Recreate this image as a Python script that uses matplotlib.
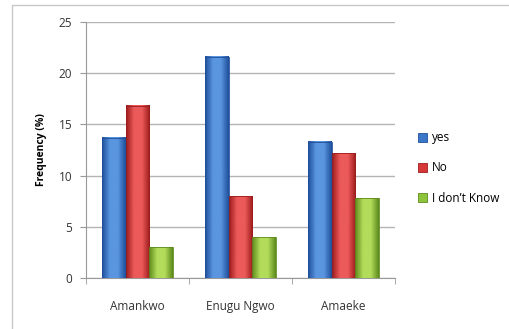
import numpy as np
import matplotlib
matplotlib.use("Agg")
import matplotlib.pyplot as plt
from matplotlib.colors import LinearSegmentedColormap
from matplotlib.patches import Rectangle

# Dados: frequência (%) por comunidade
comunidades = ["Amankwo", "Enugu Ngwo", "Amaeke"]
series = ["yes", "No", "I don\u2019t Know"]
sim = [13.7, 21.6, 13.3]
nao = [16.8, 8.0, 12.2]
nao_sei = [3.0, 4.0, 7.8]
valores = [sim, nao, nao_sei]

# cores base e tons para o efeito de relevo
cores = [("#1f4f9a", "#5a95e0"), ("#9c1c1c", "#ec5a5a"), ("#5d8a1c", "#b2dc5a")]
cor_solida = ["#3b77c9", "#d63838", "#8dc43c"]

plt.rcParams["font.family"] = ["Open Sans", "DejaVu Sans"]

fig = plt.figure(figsize=(5.10, 3.29), dpi=100)
fig.patches.append(Rectangle((12 / 510, -0.01), 1.0, 1 - 5 / 329 + 0.01,
                             transform=fig.transFigure, fill=False,
                             edgecolor="#c8c8c8", linewidth=1.0))
ax = fig.add_axes([86 / 510, 1 - 278 / 329, (395 - 86) / 510, (278 - 22) / 329])

x = np.arange(len(comunidades))
largura = 0.228

for i, (vals, (escuro, claro)) in enumerate(zip(valores, cores)):
    cmap = LinearSegmentedColormap.from_list("g", [escuro, claro, claro, escuro])
    grad = np.linspace(0, 1, 64).reshape(1, -1)
    for j, v in enumerate(vals):
        x0 = x[j] + (i - 1) * largura - largura / 2
        ax.imshow(grad, cmap=cmap, aspect="auto", extent=(x0, x0 + largura, 0, v),
                  zorder=3, interpolation="bilinear")
        ax.add_patch(Rectangle((x0, 0), largura, v, fill=False,
                               edgecolor=escuro, linewidth=0.6, zorder=4))
    # barras vazias só para a legenda
    ax.bar([0], [0], color=cor_solida[i], edgecolor=escuro, linewidth=0.6,
           label=series[i])

ax.set_xlim(-0.5, 2.5)
ax.set_ylim(0, 25)
ax.set_yticks(range(0, 26, 5))
ax.yaxis.grid(True, color="#b4b4b4", linewidth=1.0)
ax.set_axisbelow(True)

ax.set_xticks(x)
ax.set_xticklabels(comunidades)
ax.set_xticks([-0.5, 0.5, 1.5, 2.5], minor=True)
ax.tick_params(axis="x", which="major", length=0, pad=16, labelsize=8.5, colors="#333333")
ax.tick_params(axis="x", which="minor", length=4, color="#999999")
ax.tick_params(axis="y", length=4, color="#999999", labelsize=8.5, colors="#333333", pad=6)

for lado in ["top", "right"]:
    ax.spines[lado].set_visible(False)
for lado in ["left", "bottom"]:
    ax.spines[lado].set_color("#999999")

ax.set_ylabel("Frequency (%)", fontsize=7.5, fontweight="bold", labelpad=8)

ax.legend(loc="center left", bbox_to_anchor=(1.04, 0.43), frameon=False,
          fontsize=8.5, handlelength=0.8, handleheight=0.8, handletextpad=0.4,
          labelspacing=1.45)

fig.savefig("out.png", dpi=100)
